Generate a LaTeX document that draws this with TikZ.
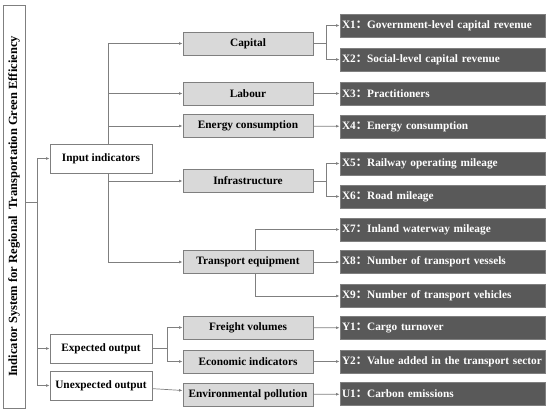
\documentclass[tikz,border=0pt]{standalone}
\usepackage{fontspec}
\setmainfont{Liberation Serif}
\newfontfamily\cjk{Noto Sans CJK SC}
\usetikzlibrary{arrows.meta}
\definecolor{linegray}{HTML}{7F7F7F}
\definecolor{boxgray}{HTML}{D9D9D9}
\definecolor{darkgray}{HTML}{595959}
\newcommand{\fwcolon}{{\cjk ：}}
\begin{document}
\begin{tikzpicture}[x=1pt, y=-1pt, font=\bfseries\fontsize{11.3}{13}\selectfont]
    \tikzstyle{rootbox} = [draw=linegray, line width=0.8pt, fill=white, rotate=90, minimum width=403pt, minimum height=22pt, inner sep=0pt, font=\bfseries\fontsize{12.5}{14}\selectfont]
    \tikzstyle{groupbox} = [draw=linegray, line width=0.8pt, fill=white, minimum width=102pt, minimum height=29pt, inner sep=1pt]
    \tikzstyle{factorbox} = [draw=linegray, line width=0.8pt, fill=boxgray, minimum width=130pt, minimum height=23pt, inner sep=1pt]
    \tikzstyle{indexbox} = [draw=linegray, line width=0.8pt, fill=darkgray, text=white, text width=201pt, align=left, minimum height=23pt, inner sep=2pt]
    \tikzstyle{link} = [draw=linegray, line width=0.7pt]
    \tikzstyle{arr} = [link, -{Latex[length=3.5pt, width=2.8pt]}]
    \useasboundingbox (0,0) rectangle (550,414);
    % root
    \node[rootbox] (root) at (14,206.5) {Indicator System for Regional\ \ Transportation Green Efficiency};
    % first level
    \node[groupbox] (input) at (101,158.5) {Input indicators};
    \node[groupbox] (expected) at (101,348.5) {Expected output};
    \node[groupbox] (unexpected) at (101,385.5) {Unexpected output};
    % second level
    \node[factorbox] (capital) at (248,43.5) {Capital};
    \node[factorbox] (labour) at (248,93.5) {Labour};
    \node[factorbox] (energy) at (248,126) {Energy consumption};
    \node[factorbox] (infra) at (248,181) {Infrastructure};
    \node[factorbox] (transport) at (248,262) {Transport equipment};
    \node[factorbox] (freight) at (248,327.5) {Freight volumes};
    \node[factorbox] (economic) at (248,361.5) {Economic indicators};
    \node[factorbox] (pollution) at (248,394.5) {Environmental pollution};
    % indicators
    \node[indexbox] (x1) at (442.5,25.5) {X1\fwcolon Government-level capital revenue};
    \node[indexbox] (x2) at (442.5,59.5) {X2\fwcolon Social-level capital revenue};
    \node[indexbox] (x3) at (442.5,93.5) {X3\fwcolon Practitioners};
    \node[indexbox] (x4) at (442.5,126.5) {X4\fwcolon Energy consumption};
    \node[indexbox] (x5) at (442.5,163.5) {X5\fwcolon Railway operating mileage};
    \node[indexbox] (x6) at (442.5,196.5) {X6\fwcolon Road mileage};
    \node[indexbox] (x7) at (442.5,229.5) {X7\fwcolon Inland waterway mileage};
    \node[indexbox] (x8) at (442.5,262) {X8\fwcolon Number of transport vessels};
    \node[indexbox] (x9) at (442.5,296) {X9\fwcolon Number of transport vehicles};
    \node[indexbox] (y1) at (442.5,328) {Y1\fwcolon Cargo turnover};
    \node[indexbox] (y2) at (442.5,361.5) {Y2\fwcolon Value added in the transport sector};
    \node[indexbox] (u1) at (442.5,394) {U1\fwcolon Carbon emissions};
    % forks
    \coordinate (rootfork) at (37,202);
    \coordinate (inputfork) at (108,158.5);
    \coordinate (expfork) at (167,348.5);
    \coordinate (capfork) at (326,43.5);
    \coordinate (infrafork) at (326,181);
    \coordinate (transfork) at (255,262);
    % root to first level
    \draw[link] (root.south |- rootfork) -- (rootfork);
    \draw[arr] (rootfork) |- (input);
    \draw[arr] (rootfork) |- (expected);
    \draw[arr] (rootfork) |- (unexpected);
    % input indicators
    \draw[arr] (input.north -| inputfork) |- (capital);
    \draw[arr] (input.north -| inputfork) |- (labour);
    \draw[arr] (input.north -| inputfork) |- (energy);
    \draw[arr] (input.south -| inputfork) |- (infra);
    \draw[arr] (input.south -| inputfork) |- (transport);
    % outputs
    \draw[link] (expected) -- (expfork);
    \draw[arr] (expfork) |- (freight);
    \draw[arr] (expfork) |- (economic);
    \draw[arr] (unexpected) -- (pollution);
    % second level to indicators
    \draw[link] (capital) -- (capfork);
    \draw[arr] (capfork) |- (x1);
    \draw[arr] (capfork) |- (x2);
    \draw[arr] (labour) -- (x3);
    \draw[arr] (energy) -- (x4);
    \draw[link] (infra) -- (infrafork);
    \draw[arr] (infrafork) |- (x5);
    \draw[arr] (infrafork) |- (x6);
    \draw[arr] (transport.north -| transfork) |- (x7);
    \draw[arr] (transport) -- (x8);
    \draw[arr] (transport.south -| transfork) |- (x9);
    \draw[arr] (freight) -- (y1);
    \draw[arr] (economic) -- (y2);
    \draw[arr] (pollution) -- (u1);
\end{tikzpicture}
\end{document}
